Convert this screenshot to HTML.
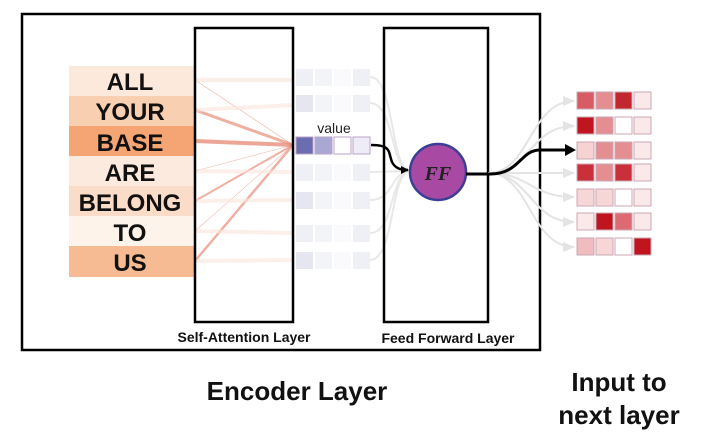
<!DOCTYPE html>
<html><head><meta charset="utf-8"><style>
body{margin:0;background:#fff;width:706px;height:430px;overflow:hidden;font-family:"Liberation Sans",sans-serif}
</style></head><body>
<svg width="706" height="430" xmlns="http://www.w3.org/2000/svg" font-family="Liberation Sans, sans-serif">
<defs>
<marker id="ah" markerWidth="8" markerHeight="8" refX="7" refY="4" orient="auto" markerUnits="userSpaceOnUse"><path d="M0,0 L8,4 L0,8 z" fill="#000"/></marker>
<marker id="ag" markerWidth="12" markerHeight="10" refX="11" refY="5" orient="auto" markerUnits="userSpaceOnUse"><path d="M0,0 L12,5 L0,10 z" fill="#e4e4e4"/></marker>
</defs>
<rect x="22" y="14" width="518" height="336" fill="none" stroke="#000" stroke-width="2.5"/>
<!-- words -->
<g font-weight="bold" font-size="24" text-anchor="middle" fill="#111">
<rect x="69" y="66" width="126" height="30" fill="#fce9dc"/>
<rect x="69" y="96" width="126" height="30" fill="#f9cfb2"/>
<rect x="69" y="126" width="126" height="30" fill="#f4a573"/>
<rect x="69" y="156" width="126" height="30" fill="#fdeade"/>
<rect x="69" y="186" width="126" height="30" fill="#fbdcc8"/>
<rect x="69" y="216" width="126" height="30" fill="#fef3eb"/>
<rect x="69" y="246" width="126" height="31" fill="#f7bb93"/>
<text x="130" y="90">ALL</text><text x="130" y="120">YOUR</text><text x="130" y="151">BASE</text>
<text x="130" y="181">ARE</text><text x="130" y="211">BELONG</text><text x="130" y="241">TO</text><text x="130" y="271">US</text>
</g>
<!-- attention lines -->
<g stroke="#e88f7a" fill="none">
<line x1="195" y1="80" x2="293" y2="145" stroke-width="0.6" opacity="0.7"/>
<line x1="195" y1="110" x2="293" y2="145" stroke-width="3" opacity="0.7"/>
<line x1="195" y1="141" x2="293" y2="145" stroke-width="4" opacity="0.8"/>
<line x1="195" y1="171" x2="293" y2="145" stroke-width="0.6" opacity="0.6"/>
<line x1="195" y1="201" x2="293" y2="145" stroke-width="2" opacity="0.7"/>
<line x1="195" y1="231" x2="293" y2="145" stroke-width="0.6" opacity="0.6"/>
<line x1="195" y1="261" x2="293" y2="145" stroke-width="2.5" opacity="0.7"/>
</g>
<g stroke="#fbe6dc" stroke-width="4" opacity="0.6">
<line x1="195" y1="80" x2="293" y2="80"/><line x1="195" y1="110" x2="293" y2="105"/>
<line x1="195" y1="171" x2="293" y2="172"/><line x1="195" y1="201" x2="293" y2="200"/>
<line x1="195" y1="231" x2="293" y2="233"/><line x1="195" y1="261" x2="293" y2="260"/>
</g>
<rect x="195" y="28" width="98" height="294" fill="none" stroke="#000" stroke-width="2.5"/>
<!-- faint value vectors -->
<g fill="#eef0f6">
<rect x="296" y="69" width="17" height="17"/><rect x="315" y="69" width="17" height="17" fill="#f3f4f8"/><rect x="334" y="69" width="17" height="17" fill="#fafafc"/><rect x="353" y="69" width="17" height="17"/>
<rect x="296" y="95" width="17" height="17" fill="#e5e6f0"/><rect x="315" y="95" width="17" height="17" fill="#f3f4f8"/><rect x="334" y="95" width="17" height="17" fill="#fafafc"/><rect x="353" y="95" width="17" height="17"/>
<rect x="296" y="164" width="17" height="17"/><rect x="315" y="164" width="17" height="17" fill="#f3f4f8"/><rect x="334" y="164" width="17" height="17" fill="#fafafc"/><rect x="353" y="164" width="17" height="17"/>
<rect x="296" y="192" width="17" height="17" fill="#e5e6f0"/><rect x="315" y="192" width="17" height="17" fill="#f3f4f8"/><rect x="334" y="192" width="17" height="17" fill="#fafafc"/><rect x="353" y="192" width="17" height="17"/>
<rect x="296" y="225" width="17" height="17"/><rect x="315" y="225" width="17" height="17" fill="#f3f4f8"/><rect x="334" y="225" width="17" height="17" fill="#fafafc"/><rect x="353" y="225" width="17" height="17"/>
<rect x="296" y="252" width="17" height="17" fill="#e5e6f0"/><rect x="315" y="252" width="17" height="17" fill="#f3f4f8"/><rect x="334" y="252" width="17" height="17" fill="#fafafc"/><rect x="353" y="252" width="17" height="17"/>
</g>
<!-- faint input curves to FF -->
<g stroke="#e8e8e8" stroke-width="2" fill="none">
<path d="M370,77 C395,77 390,170 410,171"/><path d="M370,103 C395,103 390,170 410,171"/>
<path d="M370,172 L410,171"/><path d="M370,200 C395,200 390,172 410,171"/>
<path d="M370,233 C395,233 390,172 410,171"/><path d="M370,260 C395,260 390,172 410,171"/>
</g>
<!-- value vector -->
<text x="334" y="133" font-size="14" text-anchor="middle" fill="#222">value</text>
<g stroke="#b9a3c6" stroke-width="1">
<rect x="296" y="137" width="17" height="17" fill="#6b6db0"/><rect x="315" y="137" width="17" height="17" fill="#a9a8d2"/>
<rect x="334" y="137" width="17" height="17" fill="#fff"/><rect x="353" y="137" width="17" height="17" fill="#eeecf7"/>
</g>
<path d="M371,145 C392,145 388,152 392,162 C395,168 400,170 408,170" stroke="#000" stroke-width="2.5" fill="none" marker-end="url(#ah)"/>
<rect x="384" y="28" width="104" height="294" fill="none" stroke="#000" stroke-width="2.5"/>
<circle cx="438" cy="172" r="28" fill="#a84aa3" stroke="#3a3f95" stroke-width="2.5"/>
<text x="438" y="180" font-family="Liberation Serif, serif" font-style="italic" font-weight="bold" font-size="20" text-anchor="middle" fill="#222">FF</text>
<!-- output curves -->
<g stroke="#e4e4e4" stroke-width="2" fill="none">
<path d="M488,173 C530,173 530,101 574,101" marker-end="url(#ag)"/>
<path d="M488,173 C530,173 530,126 574,126" marker-end="url(#ag)"/>
<path d="M488,173 L574,173" marker-end="url(#ag)"/>
<path d="M488,173 C530,173 530,197 574,197" marker-end="url(#ag)"/>
<path d="M488,173 C530,173 530,222 574,222" marker-end="url(#ag)"/>
<path d="M488,173 C530,173 530,247 574,247" marker-end="url(#ag)"/>
</g>
<path d="M466,174 L490,174 C520,174 520,150 540,150 L568,150" stroke="#000" stroke-width="3" fill="none"/>
<path d="M565,144 L576,150 L565,156 z" fill="#000"/>
<!-- output vectors -->
<g stroke="#c9a8b6" stroke-width="1">
<rect x="577" y="92" width="17" height="17" fill="#d75c63"/><rect x="596" y="92" width="17" height="17" fill="#e48e91"/><rect x="615" y="92" width="17" height="17" fill="#c2262f"/><rect x="634" y="92" width="17" height="17" fill="#fbe9ea"/>
<rect x="577" y="117" width="17" height="17" fill="#c0141e"/><rect x="596" y="117" width="17" height="17" fill="#e48e91"/><rect x="615" y="117" width="17" height="17" fill="#fff"/><rect x="634" y="117" width="17" height="17" fill="#fbe9ea"/>
<rect x="577" y="142" width="17" height="17" fill="#f6d2d3"/><rect x="596" y="142" width="17" height="17" fill="#e48e91"/><rect x="615" y="142" width="17" height="17" fill="#e48e91"/><rect x="634" y="142" width="17" height="17" fill="#fbe9ea"/>
<rect x="577" y="164" width="17" height="17" fill="#c9303a"/><rect x="596" y="164" width="17" height="17" fill="#e48e91"/><rect x="615" y="164" width="17" height="17" fill="#c9303a"/><rect x="634" y="164" width="17" height="17" fill="#fbe9ea"/>
<rect x="577" y="189" width="17" height="17" fill="#f6d6d7"/><rect x="596" y="189" width="17" height="17" fill="#f6d6d7"/><rect x="615" y="189" width="17" height="17" fill="#fff"/><rect x="634" y="189" width="17" height="17" fill="#fbe9ea"/>
<rect x="577" y="213" width="17" height="17" fill="#fbe9ea"/><rect x="596" y="213" width="17" height="17" fill="#c0141e"/><rect x="615" y="213" width="17" height="17" fill="#dc6a70"/><rect x="634" y="213" width="17" height="17" fill="#fbe9ea"/>
<rect x="577" y="238" width="17" height="17" fill="#f0bcbf"/><rect x="596" y="238" width="17" height="17" fill="#f6d6d7"/><rect x="615" y="238" width="17" height="17" fill="#fff"/><rect x="634" y="238" width="17" height="17" fill="#c0141e"/>
</g>
<g font-weight="bold" fill="#111">
<text x="244" y="342" font-size="14" text-anchor="middle">Self-Attention Layer</text>
<text x="448" y="343" font-size="14" text-anchor="middle">Feed Forward Layer</text>
<text x="297" y="400" font-size="26" text-anchor="middle">Encoder Layer</text>
<text x="619" y="391" font-size="26" text-anchor="middle">Input to</text>
<text x="619" y="424" font-size="26" text-anchor="middle">next layer</text>
</g>
</svg>
</body></html>
